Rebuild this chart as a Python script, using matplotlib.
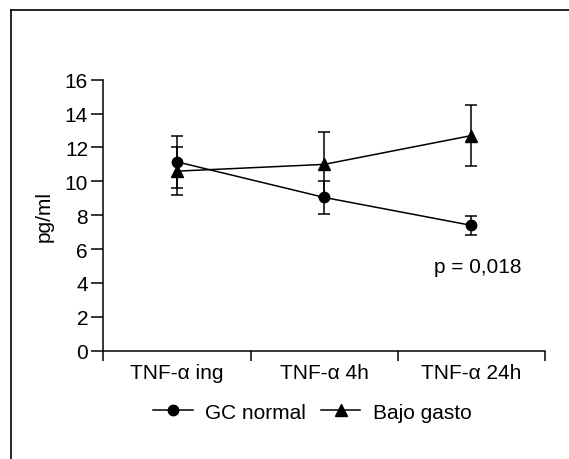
import numpy as np
import matplotlib
matplotlib.use('Agg')
import matplotlib.pyplot as plt
from matplotlib.lines import Line2D

plt.rcParams['font.family'] = ['Liberation Sans', 'DejaVu Sans']

categories = ['TNF-α ing', 'TNF-α 4h', 'TNF-α 24h']
gc_normal = [11.15, 9.05, 7.4]
gc_normal_err = [1.55, 0.95, 0.55]
bajo_gasto = [10.6, 11.0, 12.7]
bajo_gasto_err = [1.4, 1.9, 1.8]
p_text = 'p = 0,018'

fs = 15
fig = plt.figure(figsize=(5.69, 4.60), dpi=100)
ax = fig.add_axes([0.1816, 0.2354, 0.9578 - 0.1816, 0.8246 - 0.2354])

x = np.arange(len(categories))
ax.errorbar(x, gc_normal, yerr=gc_normal_err, color='black', marker='o', markersize=7.5,
            linewidth=1.1, elinewidth=1.1, capsize=4.5, capthick=1.1)
ax.errorbar(x, bajo_gasto, yerr=bajo_gasto_err, color='black', marker='^', markersize=8.5,
            linewidth=1.1, elinewidth=1.1, capsize=4.5, capthick=1.1)

ax.set_xlim(-0.5, 2.5)
ax.set_ylim(0, 16)
ax.set_yticks(np.arange(0, 17, 2))
ax.set_xticks(x)
ax.set_xticklabels(categories)
ax.set_xticks([-0.5, 0.5, 1.5, 2.5], minor=True)
ax.tick_params(axis='x', which='major', length=0, pad=9, labelsize=fs)
ax.tick_params(axis='x', which='minor', length=7.5, width=1.1)
ax.tick_params(axis='y', length=9, width=1.1, labelsize=fs, pad=2)
for s in ['top', 'right']:
    ax.spines[s].set_visible(False)
for s in ['left', 'bottom']:
    ax.spines[s].set_linewidth(1.1)
ax.set_ylabel('pg/ml', fontsize=fs, labelpad=8)

ax.text(2.04, 4.95, p_text, fontsize=fs, ha='center', va='center')

handles = [Line2D([], [], color='black', marker='o', markersize=7.5, linewidth=1.1),
           Line2D([], [], color='black', marker='^', markersize=8.5, linewidth=1.1)]
fig.legend(handles, ['GC normal', 'Bajo gasto'], loc='center', bbox_to_anchor=(0.549, 0.102),
           ncol=2, frameon=False, fontsize=fs, handlelength=1.9, handletextpad=0.6,
           columnspacing=0.7)

# frame lines of the original panel
fig.add_artist(Line2D([11 / 569, 11 / 569], [0, 1 - 11 / 460], transform=fig.transFigure,
                      color='black', linewidth=1.2))
fig.add_artist(Line2D([11 / 569, 1], [1 - 11 / 460, 1 - 11 / 460], transform=fig.transFigure,
                      color='black', linewidth=1.2))

fig.savefig('out.png', dpi=100)
